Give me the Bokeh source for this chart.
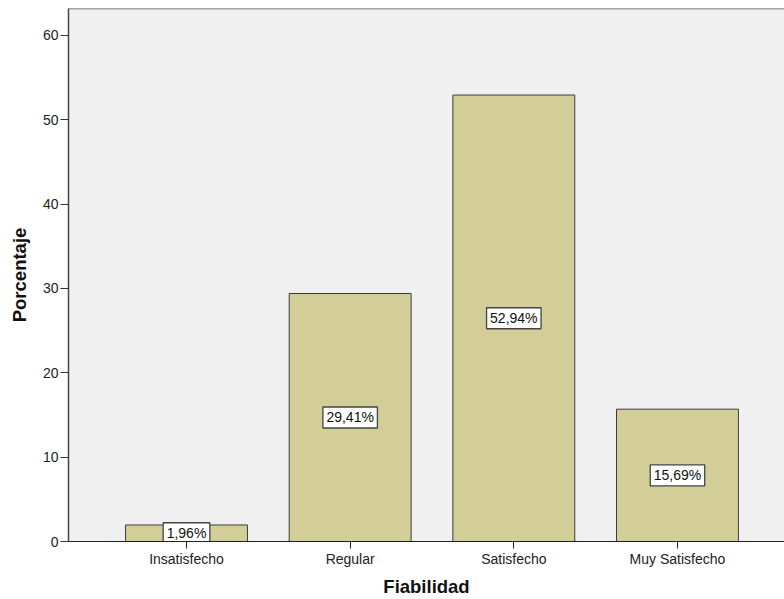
from bokeh.plotting import figure
from bokeh.models import Range1d, FixedTicker, ColumnDataSource, Span
from bokeh.core.properties import value
from bokeh.embed import file_html
from bokeh.resources import INLINE

categories = ["Insatisfecho", "Regular", "Satisfecho", "Muy Satisfecho"]
percentages = [1.96, 29.41, 52.94, 15.69]
y_ticks = [0, 10, 20, 30, 40, 50, 60]

positions = [i + 1 for i in range(len(categories))]
labels = [f"{v:.2f}%".replace(".", ",") for v in percentages]
mids = [v / 2 for v in percentages]
CHAR_EM = {",": 0.278, "%": 0.889}
box_w = [7 + 14 * sum(CHAR_EM.get(ch, 0.556) for ch in s) for s in labels]

src = ColumnDataSource(dict(x=positions, top=percentages, mid=mids, label=labels, bw=box_w))

FONT = "Liberation Sans"

p = figure(width=784, height=599, output_backend="svg", toolbar_location=None,
           x_range=Range1d(0.279, 4.654), y_range=Range1d(0, 63.2),
           min_border_left=68, min_border_right=0, min_border_top=8, min_border_bottom=58)
p.background_fill_color = "#F0F0F0"
p.border_fill_color = "white"
p.outline_line_color = None
p.xgrid.grid_line_color = None
p.ygrid.grid_line_color = None

p.vbar(x="x", top="top", bottom=0, width=0.745, source=src,
       fill_color="#D3CE97", line_color="#3C3C3C", line_width=1)

p.rect(x="x", y="mid", width="bw", height=21, width_units="screen", height_units="screen",
       source=src, fill_color="white", line_color="#444444", line_width=1.3)
p.text(x="x", y="mid", text="label", source=src, text_align="center", text_baseline="middle",
       text_font=value(FONT), text_font_size="14px", text_color="#111111")

top_line = Span(location=63.2, dimension="width", line_color="#555555", line_width=1.5)
p.add_layout(top_line)

xa = p.xaxis[0]
xa.ticker = FixedTicker(ticks=positions)
xa.major_label_overrides = {pos: c for pos, c in zip(positions, categories)}
xa.axis_label = "Fiabilidad"
xa.axis_line_color = "#222222"
xa.axis_line_width = 1
xa.major_tick_line_color = "#222222"
xa.major_tick_out = 7
xa.major_tick_in = 0
xa.minor_tick_line_color = None
xa.major_label_text_font = FONT
xa.major_label_text_font_size = "14px"
xa.major_label_text_color = "#222222"
xa.major_label_standoff = 2
xa.axis_label_text_font = FONT
xa.axis_label_text_font_size = "18.5px"
xa.axis_label_text_font_style = "bold"
xa.axis_label_text_color = "#111111"
xa.axis_label_standoff = 6

ya = p.yaxis[0]
ya.ticker = FixedTicker(ticks=y_ticks)
ya.axis_label = "Porcentaje"
ya.axis_line_color = "#444444"
ya.axis_line_width = 1.5
ya.major_tick_line_color = "#333333"
ya.major_tick_out = 8
ya.major_tick_in = 0
ya.minor_tick_line_color = None
ya.major_label_text_font = FONT
ya.major_label_text_font_size = "14px"
ya.major_label_text_color = "#222222"
ya.major_label_standoff = 2
ya.axis_label_text_font = FONT
ya.axis_label_text_font_size = "18.5px"
ya.axis_label_text_font_style = "bold"
ya.axis_label_text_color = "#111111"
ya.axis_label_standoff = 10

open("out.html", "w").write(file_html(p, INLINE))
